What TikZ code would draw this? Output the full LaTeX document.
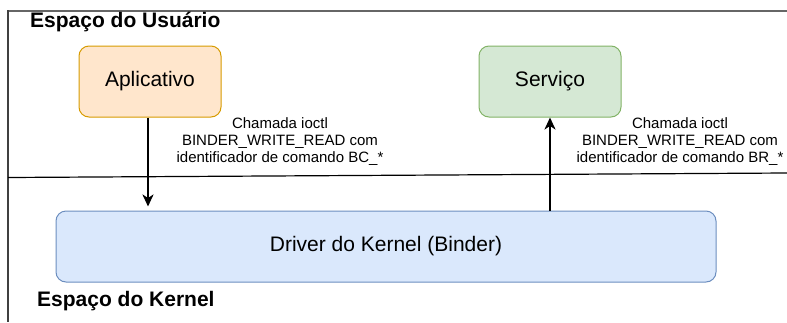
\documentclass[tikz,border=0pt]{standalone}
\usepackage{fontspec}
\setmainfont{Liberation Sans}
\usepackage{tikz}
\usetikzlibrary{arrows.meta}
\usetikzlibrary{positioning}

\definecolor{appfill}{HTML}{FFE6CC}
\definecolor{appdraw}{HTML}{D79B00}
\definecolor{svcfill}{HTML}{D5E8D4}
\definecolor{svcdraw}{HTML}{82B366}
\definecolor{drvfill}{HTML}{DAE8FC}
\definecolor{drvdraw}{HTML}{6C8EBF}

\newcommand{\boxfont}{\fontsize{21}{25}\selectfont}
\newcommand{\callfont}{\fontsize{15}{17}\selectfont}

\begin{document}
\begin{tikzpicture}[x=1pt,y=-1pt,node distance=400pt,on grid,
		>={Stealth[length=12pt,width=11pt,inset=3.5pt]},
		proc/.style={rectangle,rounded corners=10pt,line width=1pt,inner sep=0pt,
			minimum width=142pt,minimum height=71pt,font=\boxfont},
		call/.style={align=center,inner sep=0pt,font=\callfont},
		space/.style={anchor=west,inner sep=0pt,font=\boxfont\bfseries},
		flow/.style={->,line width=2pt,shorten >=4pt}]
		\useasboundingbox (0,0) rectangle (787,322);
		
		% frame and split between the two spaces
		\draw[line width=2pt,black!60] (7,10.5) -- (787,10.5);
		\draw[line width=1.3pt,black!75] (8,10) -- (8,322);
		\draw[line width=1.2pt] (8,177.5) -- (787,173);
		
		\node[space]  (user)   at (30,22)        {Espaço do Usuário};
		\node[space]  (kern)   at (37,301)       {Espaço do Kernel};
		
		\node[proc,fill=appfill,draw=appdraw] (app)  at (150,81.5)  {Aplicativo};
		\node[proc,fill=svcfill,draw=svcdraw] (svc)  [right=of app] {Serviço};
		\node[proc,fill=drvfill,draw=drvdraw,minimum width=660pt] (drv) at (386,246.5)
			{Driver do Kernel (Binder)};
		
		\node[call]   (bc)     at (280,142)      {Chamada ioctl\\BINDER\_WRITE\_READ com\\identificador de comando BC\_*};
		\node[call]   (br)     [right=of bc]     {Chamada ioctl\\BINDER\_WRITE\_READ com\\identificador de comando BR\_*};
		
		\draw[flow] ([xshift=-2pt]app.south) -- ([xshift=-2pt]app.south |- drv.north);
		\draw[flow,shorten >=0pt] (svc.south |- drv.north) -- (svc.south);
		\end{tikzpicture}
\end{document}
